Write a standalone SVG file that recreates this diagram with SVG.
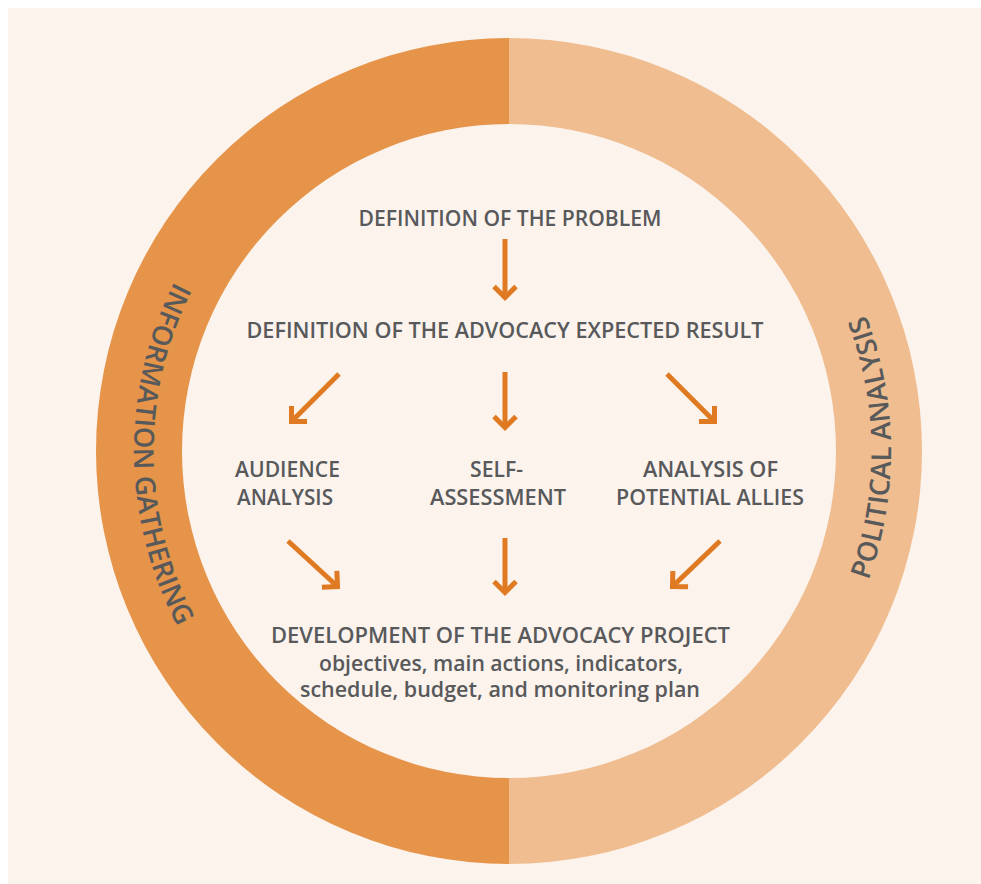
<svg xmlns="http://www.w3.org/2000/svg" width="981" height="884" viewBox="0 0 981 884">
<defs>
<style>
.t{font-family:"Open Sans","Liberation Sans",sans-serif;font-weight:600;fill:#58595b;text-anchor:middle;font-size:21.5px}
.s{font-size:21px}
.r{font-family:"Open Sans","Liberation Sans",sans-serif;font-weight:600;fill:#58595b;font-size:27.5px}
.a{fill:none;stroke:#e07a22;stroke-width:5;marker-end:url(#h)}
</style>
<marker id="h" markerUnits="userSpaceOnUse" orient="auto" markerWidth="40" markerHeight="40" refX="0" refY="0" viewBox="-20 -20 40 40" overflow="visible">
<path d="M -11 -11 L 0 0 L -11 11" fill="none" stroke="#e07a22" stroke-width="5" stroke-linejoin="miter"/>
</marker>
<path id="pl" d="M 509 76 A 375 375 0 0 0 509 826"/>
<path id="pr" d="M 509 833 A 382 382 0 0 0 509 69"/>
</defs>
<rect x="8" y="8" width="973" height="876" fill="#fcf3ed"/>
<g id="ring">
<path d="M 509 38 A 413 413 0 0 0 509 864 L 509 778 A 327 327 0 0 1 509 124 Z" fill="#e5944a"/>
<path d="M 509 38 A 413 413 0 0 1 509 864 L 509 778 A 327 327 0 0 0 509 124 Z" fill="#efbd8f"/>
</g>
<g id="ring-left"><text class="r"><textPath href="#pl" startOffset="50.3%" text-anchor="middle">INFORMATION GATHERING</textPath></text></g>
<g id="ring-right"><text class="r"><textPath href="#pr" startOffset="50.3%" text-anchor="middle">POLITICAL ANALYSIS</textPath></text></g>
<g id="n1"><text class="t" x="510" y="226" textLength="303" lengthAdjust="spacingAndGlyphs">DEFINITION OF THE PROBLEM</text></g>
<g id="n2"><text class="t" x="505" y="338" textLength="517" lengthAdjust="spacingAndGlyphs">DEFINITION OF THE ADVOCACY EXPECTED RESULT</text></g>
<g id="n3"><text class="t" x="287.5" y="477" textLength="105" lengthAdjust="spacingAndGlyphs">AUDIENCE</text><text class="t" x="285" y="505" textLength="96" lengthAdjust="spacingAndGlyphs">ANALYSIS</text></g>
<g id="n4"><text class="t" x="496.5" y="477" textLength="53" lengthAdjust="spacingAndGlyphs">SELF-</text><text class="t" x="498" y="505" textLength="136" lengthAdjust="spacingAndGlyphs">ASSESSMENT</text></g>
<g id="n5"><text class="t" x="710.5" y="477" textLength="135" lengthAdjust="spacingAndGlyphs">ANALYSIS OF</text><text class="t" x="710" y="505" textLength="188" lengthAdjust="spacingAndGlyphs">POTENTIAL ALLIES</text></g>
<g id="n6"><text class="t" x="500.5" y="643" textLength="459" lengthAdjust="spacingAndGlyphs">DEVELOPMENT OF THE ADVOCACY PROJECT</text><text class="t s" x="501" y="671" textLength="364" lengthAdjust="spacingAndGlyphs">objectives, main actions, indicators,</text><text class="t s" x="500" y="697" textLength="400" lengthAdjust="spacingAndGlyphs">schedule, budget, and monitoring plan</text></g>
<g id="connectors">
<path class="a" d="M 505 239 L 505 297.5"/>
<path class="a" d="M 339 374 L 291.5 421.5"/>
<path class="a" d="M 505 372 L 505 427.5"/>
<path class="a" d="M 667 374 L 714.5 421.5"/>
<path class="a" d="M 288 541 L 337.5 586.5"/>
<path class="a" d="M 505 538 L 505 592.5"/>
<path class="a" d="M 720 541 L 672.5 586.5"/>
</g>
</svg>
